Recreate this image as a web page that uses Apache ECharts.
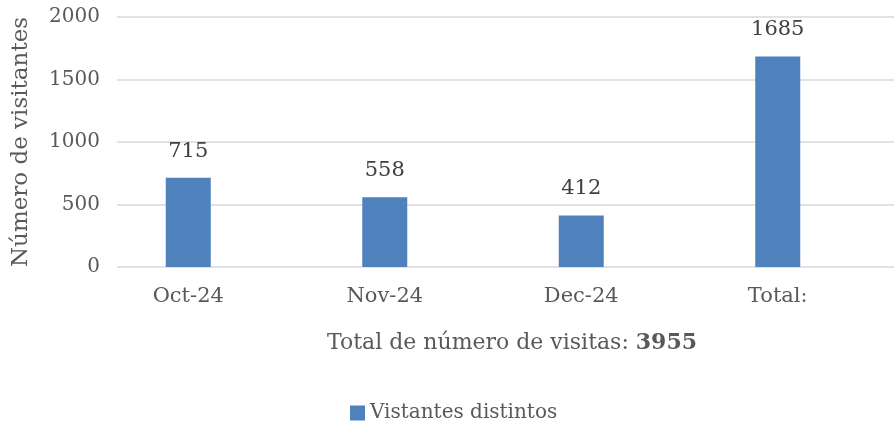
<!DOCTYPE html>
<html>
<head>
<meta charset="utf-8">
<script src="https://cdn.jsdelivr.net/npm/echarts@6/dist/echarts.min.js"></script>
<style>
  html, body { margin: 0; padding: 0; background: #fff; }
  #chart { width: 894px; height: 422px; }
</style>
</head>
<body>
<div id="chart"></div>
<script>
const categories = ['Oct-24', 'Nov-24', 'Dec-24', 'Total:'];
const visitantes = [715, 558, 412, 1685];
const totalVisitas = 3955;

const fuente = 'DejaVu Serif';
const gris = '#595959';

const chart = echarts.init(document.getElementById('chart'));

chart.setOption({
  animation: false,
  textStyle: { fontFamily: fuente },
  title: {
    text: '{n|Total de número de visitas: }{b|' + totalVisitas + '}',
    left: 322,
    top: 327,
    textStyle: {
      rich: {
        n: { fontFamily: fuente, fontSize: 22, color: gris, fontWeight: 'normal' },
        b: { fontFamily: fuente, fontSize: 22, color: gris, fontWeight: 'bold' }
      }
    }
  },
  legend: {
    data: ['Vistantes distintos'],
    left: 345,
    top: 398,
    icon: 'rect',
    itemWidth: 15,
    itemHeight: 15,
    itemGap: 8,
    textStyle: { fontFamily: fuente, fontSize: 20, color: gris }
  },
  // grid 0: lineas de fondo y etiquetas del eje y; grid 1: barras
  grid: [
    { left: 117, right: 0, top: 17, bottom: 155 },
    { left: 90, right: 18, top: 17, bottom: 155 }
  ],
  xAxis: [
    { gridIndex: 0, type: 'category', data: categories, show: false },
    {
      gridIndex: 1,
      type: 'category',
      data: categories,
      axisLine: { show: false },
      axisTick: { show: false },
      axisLabel: { margin: 19, fontSize: 21, color: gris, fontFamily: fuente }
    }
  ],
  yAxis: [
    {
      gridIndex: 0,
      type: 'value',
      min: 0,
      max: 2000,
      interval: 500,
      name: 'Número de visitantes',
      nameLocation: 'middle',
      nameGap: 84,
      nameTextStyle: { fontSize: 23, color: gris, fontFamily: fuente },
      axisLabel: {
        margin: 17,
        fontSize: 20,
        color: gris,
        fontFamily: fuente,
        formatter: (v) => String(v)
      },
      splitLine: { lineStyle: { color: '#d9d9d9', width: 1.5 } }
    },
    { gridIndex: 1, type: 'value', min: 0, max: 2000, interval: 500, show: false }
  ],
  series: [
    {
      name: 'Vistantes distintos',
      type: 'bar',
      xAxisIndex: 1,
      yAxisIndex: 1,
      data: visitantes,
      barWidth: 45,
      itemStyle: { color: '#4f81bd' },
      label: {
        show: true,
        position: 'top',
        distance: 16,
        fontSize: 21,
        color: '#404040',
        fontFamily: fuente
      }
    }
  ]
});
</script>
</body>
</html>
